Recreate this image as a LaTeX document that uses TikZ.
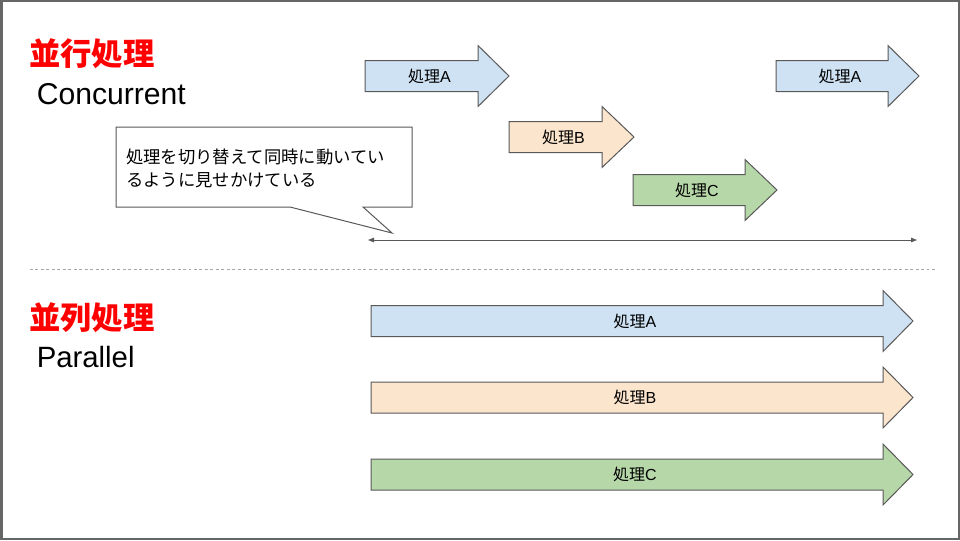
\documentclass[tikz,border=0pt]{standalone}
\usepackage{fontspec}
\setmainfont{Liberation Sans}
\newfontfamily\jp{Noto Sans CJK JP}
\usetikzlibrary{arrows.meta}
\definecolor{strokegray}{HTML}{595959}
\definecolor{framegray}{HTML}{666666}
\definecolor{pblue}{HTML}{CFE2F3}
\definecolor{porange}{HTML}{FCE5CD}
\definecolor{pgreen}{HTML}{B6D7A8}
\definecolor{tred}{HTML}{FF0000}
\tikzset{
  arrowline/.style={draw=strokegray, line width=0.75pt, line join=miter},
  lbl/.style={inner sep=0pt, font=\fontsize{12}{14}\selectfont},
  jtitle/.style={inner sep=0pt, anchor=west, text=tred, font=\fontsize{23.5}{26}\selectfont\jp\bfseries},
  etitle/.style={inner sep=0pt, anchor=west, font=\fontsize{22}{26}\selectfont},
  callout/.style={draw=strokegray, line width=0.75pt, fill=white, line join=miter},
  timeline/.style={draw=strokegray, line width=0.75pt, {Triangle[length=4.5pt,width=3.4pt]}-{Triangle[length=4.5pt,width=3.4pt]}},
  divider/.style={draw=gray!70, line width=0.6pt, dash pattern=on 2.2pt off 1.9pt}
}
\newcommand\procarrow[7]{%
  \draw[arrowline, fill=#6] (#2,#5-15.5) -- (#3,#5-15.5) -- (#3,#5-30.5) -- (#4,#5)
     -- (#3,#5+30.5) -- (#3,#5+15.5) -- (#2,#5+15.5) -- cycle;
  \node[lbl] (#1) at ({(#2+#3)/2+8},#5) {{\jp 処理}#7};}
\begin{document}
\begin{tikzpicture}[x=0.75pt,y=-0.75pt]
\useasboundingbox (0,0) rectangle (960,540);
\fill[framegray] (0,0) rectangle (960,540);
\fill[white] (2.7,2.2) rectangle (957.5,537.5);
% titles
\node[jtitle] (ctitle) at (29,54) {並行処理};
\node[etitle, font=\fontsize{22.6}{26}\selectfont] (cen) at (36.5,94) {Concurrent};
\node[jtitle] (ptitle) at (29,318) {並列処理};
\node[etitle] (pen) at (36.5,357.5) {Parallel};
% concurrent arrows
\procarrow{ca1}{365}{478}{509}{76}{pblue}{A}
\procarrow{cb}{509}{602}{634}{137}{porange}{B}
\procarrow{cc}{633}{745}{777}{190}{pgreen}{C}
\procarrow{ca2}{776}{888}{919}{76}{pblue}{A}
% callout
\draw[callout] (116,127) -- (412,127) -- (412,207) -- (363,207) -- (392,233) -- (290,207) -- (116,207) -- cycle;
\node[inner sep=0pt, anchor=west, align=left, font=\fontsize{13}{17.25}\selectfont\jp] (note) at (126,168.5)
  {処理を切り替えて同時に動いてい\\るように見せかけている};
% timeline
\coordinate (tl) at (368,240);
\coordinate (tr) at (917,240);
\draw[timeline] (tl) -- (tr);
% divider
\coordinate (dl) at (30,269);
\coordinate (dr) at (936,269);
\draw[divider] (dl) -- (dr);
% parallel arrows
\procarrow{pa}{371}{883}{913}{321}{pblue}{A}
\procarrow{pb}{371}{883}{913}{397.5}{porange}{B}
\procarrow{pc}{371}{883}{913}{474.5}{pgreen}{C}
\end{tikzpicture}
\end{document}
